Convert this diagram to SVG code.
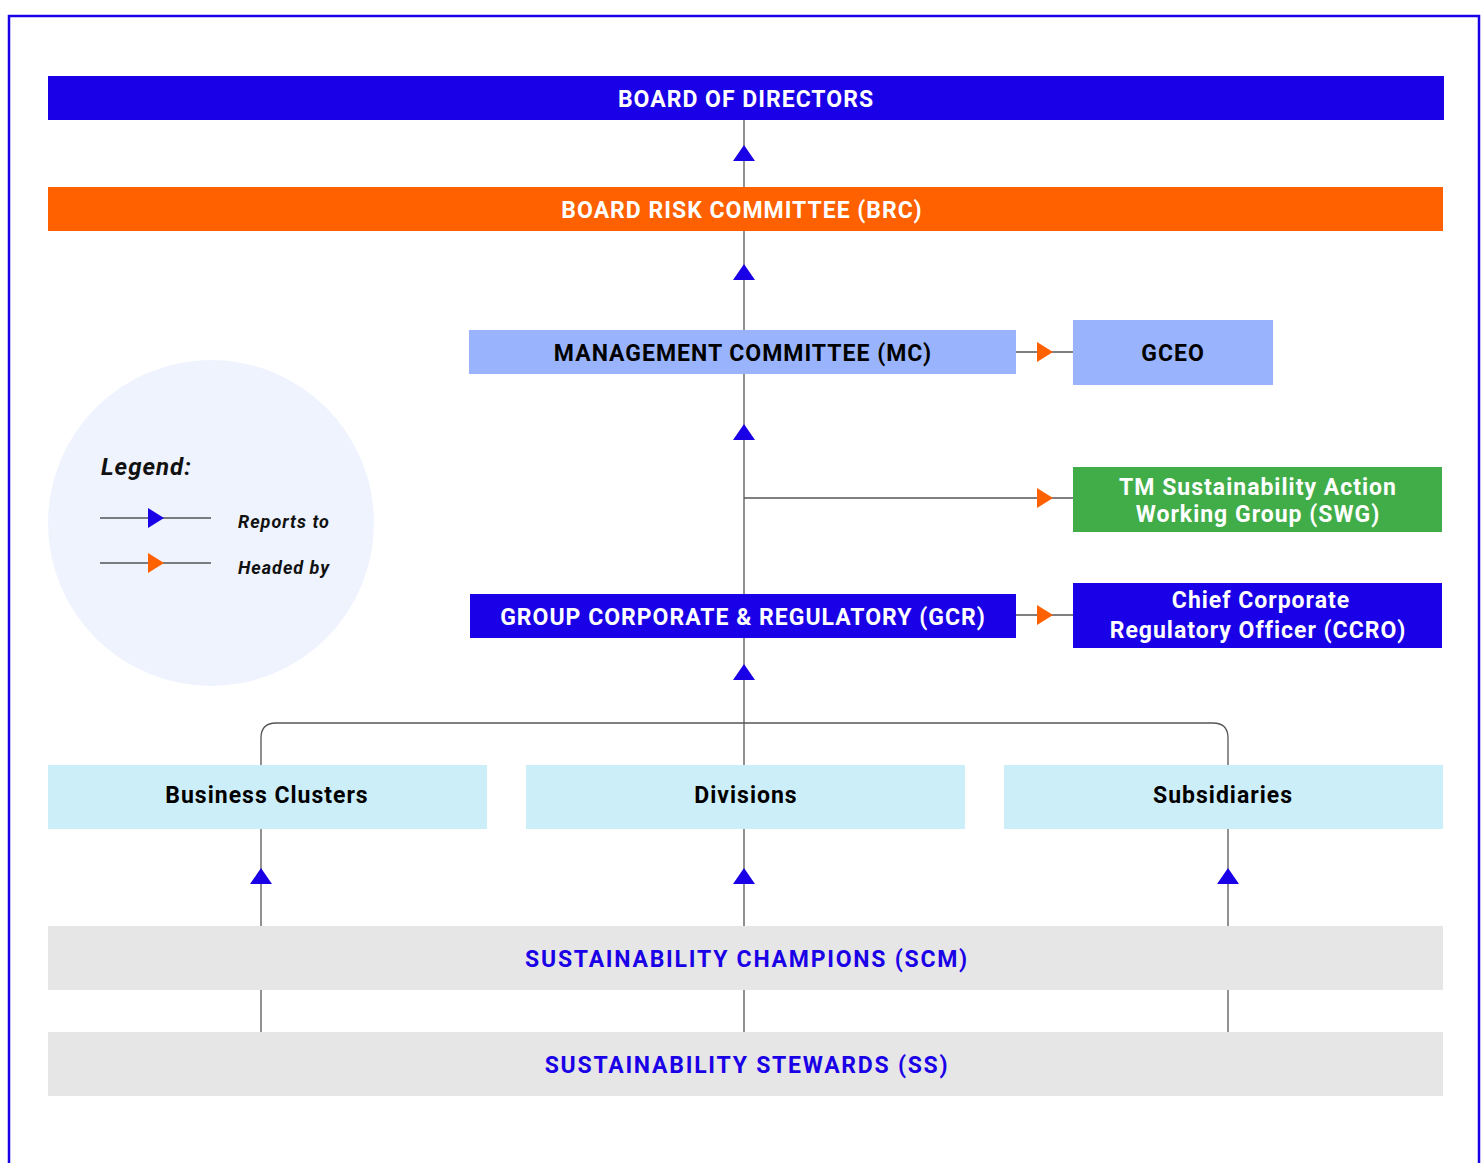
<svg xmlns="http://www.w3.org/2000/svg" width="1483" height="1163" viewBox="0 0 1483 1163">
<style>
text{font-family:Roboto,"Liberation Sans",sans-serif;font-weight:bold;text-anchor:middle;dominant-baseline:central}
.w{fill:#ffffff;font-size:23px;letter-spacing:1px}
.k{fill:#000000;font-size:23px;letter-spacing:1px}
.b{fill:#1A00E6;font-size:23px;letter-spacing:1.75px}
.ln{stroke:#555;stroke-width:1.3;fill:none}
.up{fill:#1A00E6}
.hd{fill:#FF6000}
.lg{text-anchor:start;font-style:italic;fill:#111;letter-spacing:1px}
</style>
<rect x="9" y="16" width="1470" height="1200" fill="#fff" stroke="#1A00E6" stroke-width="2.5"/>
<g id="legend">
<circle cx="211" cy="523" r="163" fill="#EEF3FD"/>
<text class="lg" x="101" y="467" font-size="24">Legend:</text>
<line class="ln" x1="100" y1="518" x2="211" y2="518"/>
<polygon class="up" points="148,508 164,518 148,528"/>
<text class="lg" x="238" y="521" font-size="18">Reports to</text>
<line class="ln" x1="100" y1="563" x2="211" y2="563"/>
<polygon class="hd" points="148,553 164,563 148,573"/>
<text class="lg" x="238" y="567" font-size="18">Headed by</text>
</g>
<g id="connectors">
<line class="ln" x1="744" y1="120" x2="744" y2="187"/>
<line class="ln" x1="744" y1="231" x2="744" y2="330"/>
<line class="ln" x1="744" y1="374" x2="744" y2="594"/>
<line class="ln" x1="744" y1="638" x2="744" y2="765"/>
<line class="ln" x1="744" y1="498" x2="1073" y2="498"/>
<line class="ln" x1="1016" y1="352" x2="1073" y2="352"/>
<line class="ln" x1="1016" y1="615" x2="1073" y2="615"/>
<path class="ln" d="M261,765 V738 Q261,723 276,723 H1213 Q1228,723 1228,738 V765"/>
<line class="ln" x1="261" y1="829" x2="261" y2="1032"/>
<line class="ln" x1="744" y1="829" x2="744" y2="1032"/>
<line class="ln" x1="1228" y1="829" x2="1228" y2="1032"/>
<polygon class="up" points="744,145 733,161 755,161"/>
<polygon class="up" points="744,264 733,280 755,280"/>
<polygon class="up" points="744,424 733,440 755,440"/>
<polygon class="up" points="744,664 733,680 755,680"/>
<polygon class="up" points="261,868 250,884 272,884"/>
<polygon class="up" points="744,868 733,884 755,884"/>
<polygon class="up" points="1228,868 1217,884 1239,884"/>
<polygon class="hd" points="1037,342 1053,352 1037,362"/>
<polygon class="hd" points="1037,488 1053,498 1037,508"/>
<polygon class="hd" points="1037,605 1053,615 1037,625"/>
</g>
<g id="bod"><rect x="48" y="76" width="1396" height="44" fill="#1A00E6"/><text class="w" x="746" y="99">BOARD OF DIRECTORS</text></g>
<g id="brc"><rect x="48" y="187" width="1395" height="44" fill="#FF6000"/><text class="w" x="742" y="210">BOARD RISK COMMITTEE (BRC)</text></g>
<g id="mc"><rect x="469" y="330" width="547" height="44" fill="#99B4FC"/><text class="k" x="743" y="353">MANAGEMENT COMMITTEE (MC)</text></g>
<g id="gceo"><rect x="1073" y="320" width="200" height="65" fill="#99B4FC"/><text class="k" x="1173" y="353">GCEO</text></g>
<g id="swg"><rect x="1073" y="467" width="369" height="65" fill="#41AD49"/><text class="w" x="1258" y="487">TM Sustainability Action</text><text class="w" x="1258" y="514">Working Group (SWG)</text></g>
<g id="gcr"><rect x="470" y="594" width="546" height="44" fill="#1A00E6"/><text class="w" x="743" y="617">GROUP CORPORATE &amp; REGULATORY (GCR)</text></g>
<g id="ccro"><rect x="1073" y="583" width="369" height="65" fill="#1A00E6"/><text class="w" x="1261" y="600">Chief Corporate</text><text class="w" x="1258" y="630">Regulatory Officer (CCRO)</text></g>
<g id="bc"><rect x="48" y="765" width="439" height="64" fill="#CCEEF9"/><text class="k" x="267" y="795">Business Clusters</text></g>
<g id="div"><rect x="526" y="765" width="439" height="64" fill="#CCEEF9"/><text class="k" x="746" y="795">Divisions</text></g>
<g id="sub"><rect x="1004" y="765" width="439" height="64" fill="#CCEEF9"/><text class="k" x="1223" y="795">Subsidiaries</text></g>
<g id="scm"><rect x="48" y="926" width="1395" height="64" fill="#E6E6E6"/><text class="b" x="747" y="959">SUSTAINABILITY CHAMPIONS (SCM)</text></g>
<g id="ss"><rect x="48" y="1032" width="1395" height="64" fill="#E6E6E6"/><text class="b" x="747" y="1065">SUSTAINABILITY STEWARDS (SS)</text></g>
</svg>
